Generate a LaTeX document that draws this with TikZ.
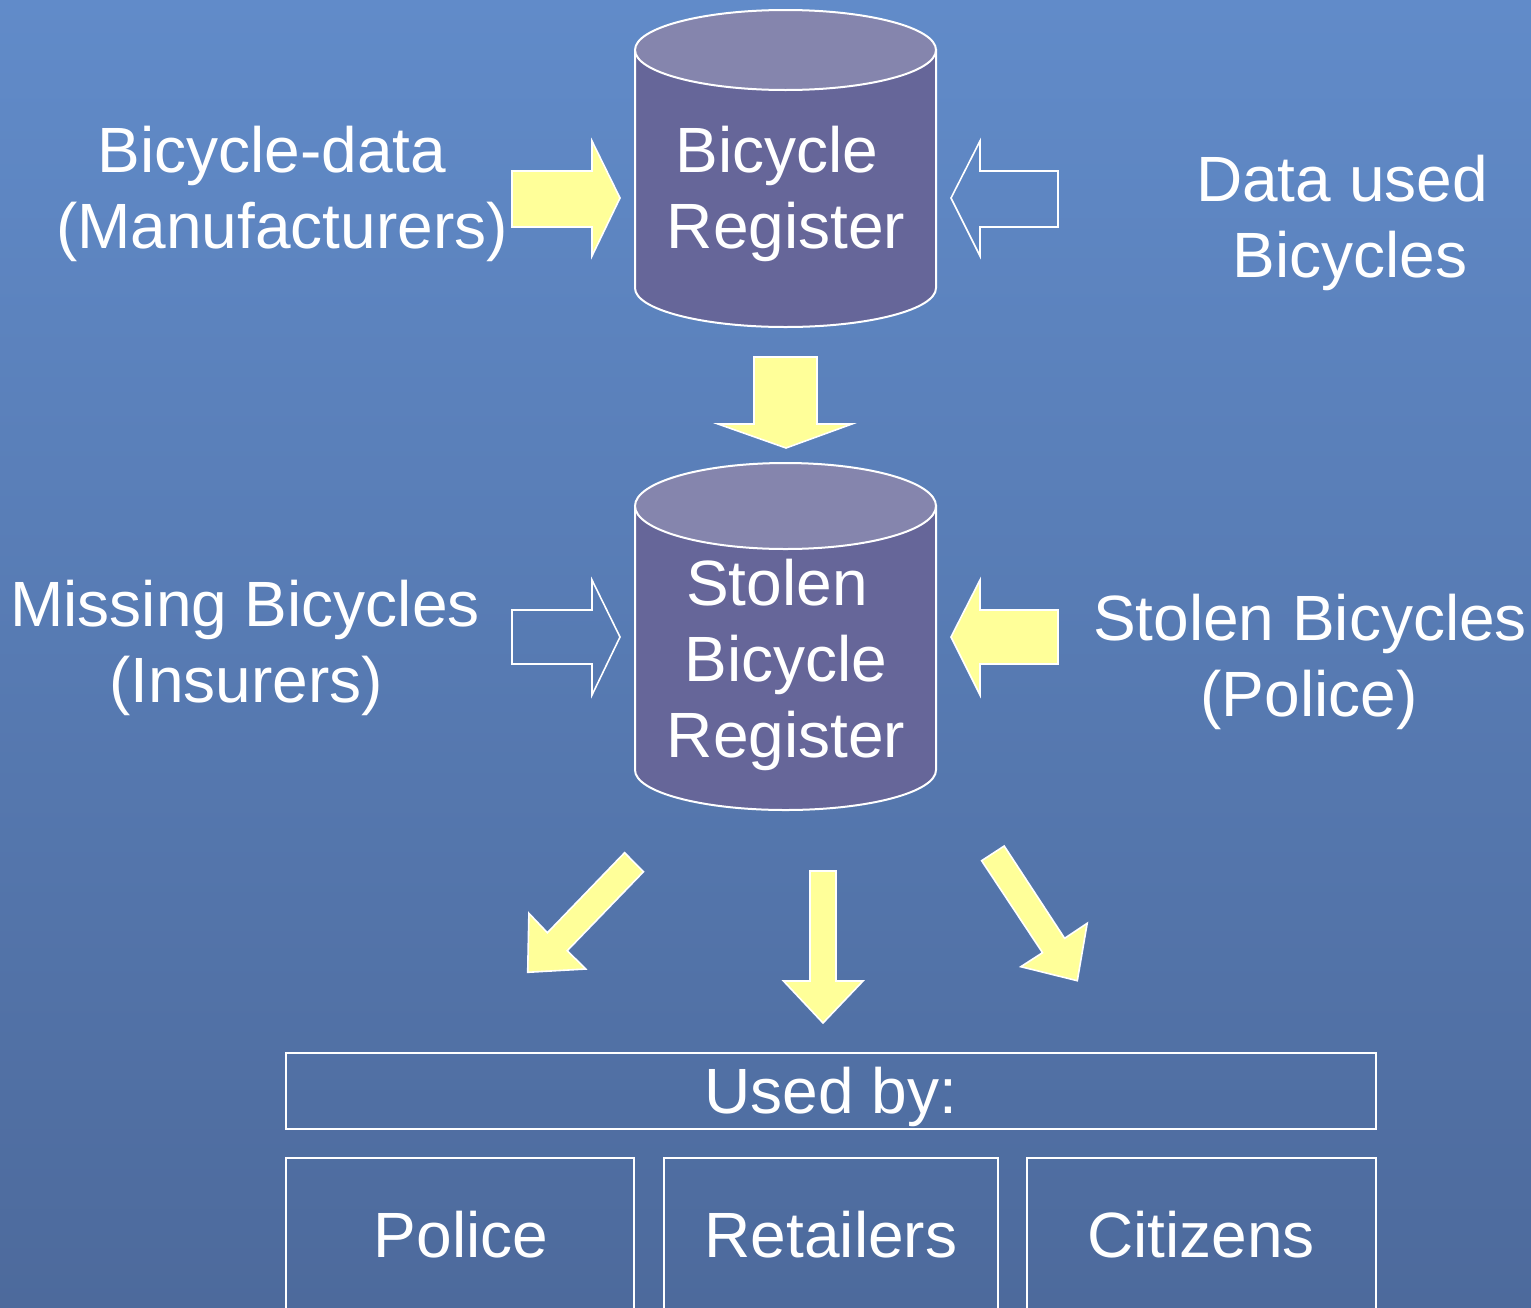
\documentclass[tikz,border=0pt]{standalone}
\usepackage{fontspec}
\setmainfont{Liberation Sans}
\definecolor{bgtop}{RGB}{97,139,201}
\definecolor{bgbot}{RGB}{77,106,156}
\definecolor{cylbody}{RGB}{102,102,153}
\definecolor{cyltop}{RGB}{133,133,173}
\definecolor{arrowyel}{RGB}{255,255,153}
\begin{document}
\begin{tikzpicture}[x=0.5pt,y=0.5pt,
  lbl/.style={text=white,font=\fontsize{32}{38}\selectfont,anchor=base,inner sep=0pt},
  fullarrow/.style={fill=arrowyel,draw=white,line width=0.8pt,line join=miter},
  hollowarrow/.style={draw=white,line width=0.8pt,line join=miter},
  cylb/.style={fill=cylbody,draw=white,line width=1pt},
  cylt/.style={fill=cyltop,draw=white,line width=1pt},
  boxstyle/.style={draw=white,line width=1pt}]
\useasboundingbox (0,0) rectangle (1531,-1307);
\shade[top color=bgtop,bottom color=bgbot] (0,0) rectangle (1531,-1307);

% Cylinder 1
\draw[cylb] (635,-50) -- (635,-288) arc[start angle=180,end angle=360,x radius=150.5,y radius=39] -- (936,-50) -- cycle;
\draw[cylt] (785.5,-50) ellipse[x radius=150.5,y radius=40];
\coordinate (cyl1) at (785.5,-190);

% Cylinder 2
\draw[cylb] (635,-506) -- (635,-770) arc[start angle=180,end angle=360,x radius=150.5,y radius=40] -- (936,-506) -- cycle;
\draw[cylt] (785.5,-506) ellipse[x radius=150.5,y radius=43];
\coordinate (cyl2) at (785.5,-650);

% Row 1 arrows
\draw[fullarrow] (512,-171) -- (592,-171) -- (592,-141) -- (620,-198) -- (592,-256) -- (592,-227) -- (512,-227) -- cycle;
\draw[hollowarrow] (1058,-171) -- (980,-171) -- (980,-141) -- (951,-198) -- (980,-256) -- (980,-227) -- (1058,-227) -- cycle;

% Down arrow between cylinders
\draw[fullarrow] (754,-357) -- (817,-357) -- (817,-424) -- (852,-424) -- (786,-448) -- (718,-424) -- (754,-424) -- cycle;

% Row 2 arrows
\draw[hollowarrow] (512,-610) -- (592,-610) -- (592,-580) -- (620,-637) -- (592,-695) -- (592,-664) -- (512,-664) -- cycle;
\draw[fullarrow] (1058,-610) -- (980,-610) -- (980,-580) -- (951,-637) -- (980,-695) -- (980,-664) -- (1058,-664) -- cycle;

% Bottom arrows
\draw[fullarrow] (624.6,-852.7) -- (643.5,-871.7) -- (567.2,-950.7) -- (585.8,-969) -- (527.7,-972.3) -- (528.9,-913.3) -- (547.4,-932.7) -- cycle;
\draw[fullarrow] (810,-871) -- (836,-871) -- (836,-981) -- (863,-981) -- (823,-1023) -- (783.5,-981) -- (810,-981) -- cycle;
\draw[fullarrow] (1004.2,-846) -- (1064.6,-938.3) -- (1087.2,-923.3) -- (1077.3,-980.7) -- (1020.8,-966.7) -- (1042.5,-952.7) -- (981.6,-860.7) -- cycle;

% Boxes
\draw[boxstyle] (286,-1053) rectangle (1376,-1129);
\draw[boxstyle] (286,-1320) -- (286,-1158) -- (634,-1158) -- (634,-1320);
\draw[boxstyle] (664,-1320) -- (664,-1158) -- (998,-1158) -- (998,-1320);
\draw[boxstyle] (1027,-1320) -- (1027,-1158) -- (1376,-1158) -- (1376,-1320);

% Labels
\node[lbl] (bd1) at (272,-172) {Bicycle-data};
\node[lbl] (bd2) at (282,-248) {(Manufacturers)};
\node[lbl] (br1) at (777,-172) {Bicycle};
\node[lbl] (br2) at (786,-248) {Register};
\node[lbl] (du1) at (1342,-201) {Data used};
\node[lbl] (du2) at (1350,-277) {Bicycles};
\node[lbl] (mb1) at (245,-626) {Missing Bicycles};
\node[lbl] (mb2) at (246,-702) {(Insurers)};
\node[lbl] (sb1) at (777,-605) {Stolen};
\node[lbl] (sb2) at (786,-681) {Bicycle};
\node[lbl] (sb3) at (786,-757) {Register};
\node[lbl] (sp1) at (1310,-640) {Stolen Bicycles};
\node[lbl] (sp2) at (1309,-716) {(Police)};
\node[lbl] (used) at (831,-1113) {Used by:};
\node[lbl] (pol) at (461,-1257) {Police};
\node[lbl] (ret) at (831,-1257) {Retailers};
\node[lbl] (cit) at (1201,-1257) {Citizens};
\end{tikzpicture}
\end{document}
